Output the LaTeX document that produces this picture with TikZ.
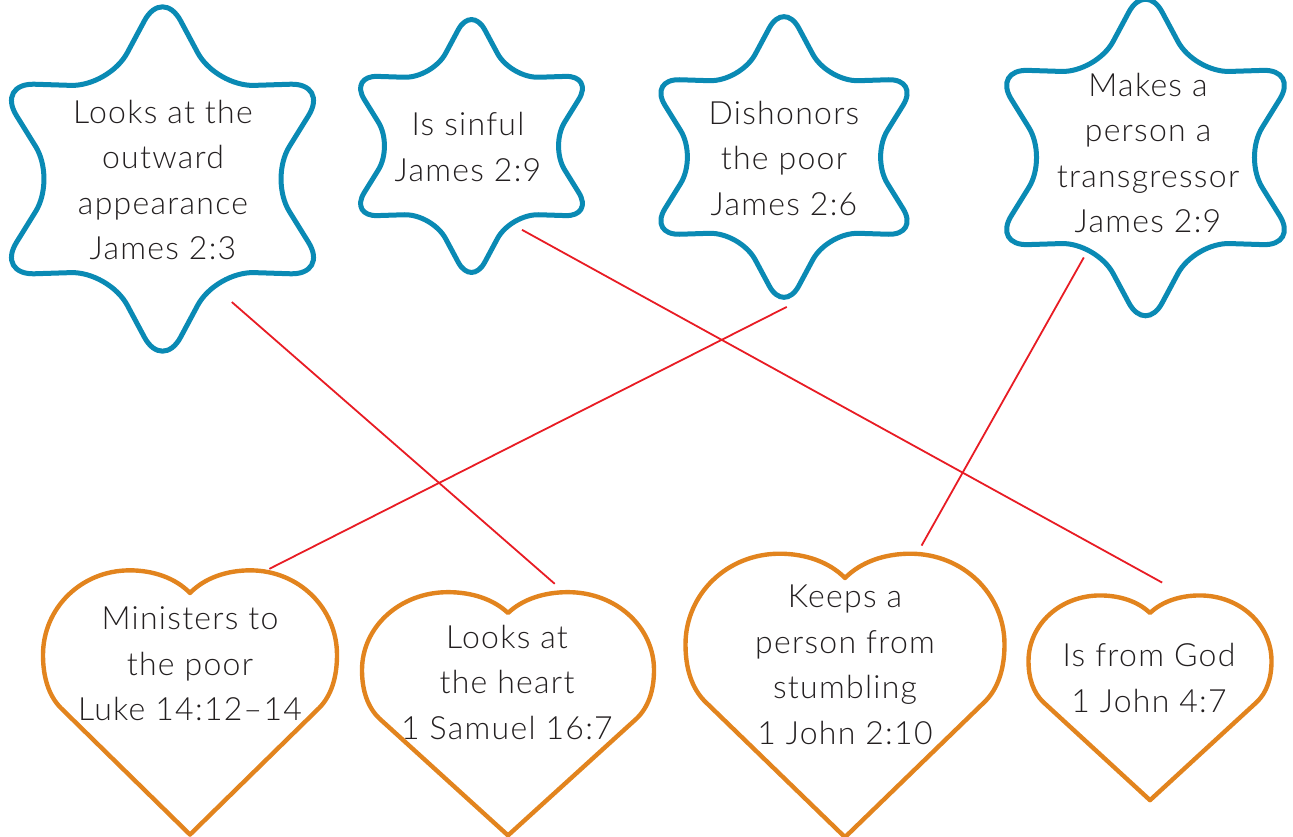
\documentclass[tikz,border=0pt]{standalone}
\usepackage{fontspec}
\setmainfont{Lato}[UprightFont=* Light, LetterSpace=4]
\usetikzlibrary{shapes.geometric}

\definecolor{starblue}{RGB}{10,138,180}
\definecolor{heartorange}{RGB}{226,132,30}
\definecolor{linkred}{RGB}{232,28,36}
\definecolor{textgray}{RGB}{35,31,32}

% unit heart, dip at the origin, y runs down
\newcommand{\heartpath}{(0,0) .. controls (0.1,-0.1) and (0.25,-0.15) .. (0.41,-0.15)
    .. controls (0.74,-0.15) and (1,0.1) .. (1,0.41)
    .. controls (1,0.56) and (0.96,0.68) .. (0.88,0.76)
    -- (0,1.6) -- (-0.88,0.76)
    .. controls (-0.96,0.68) and (-1,0.56) .. (-1,0.41)
    .. controls (-1,0.1) and (-0.74,-0.15) .. (-0.41,-0.15)
    .. controls (-0.25,-0.15) and (-0.1,-0.1) .. (0,0) -- cycle}

\begin{document}
\begin{tikzpicture}[x=1pt,y=-1pt,
        starbox/.style={star, star points=6, star point ratio=1.8, draw=starblue, line width=5pt, inner sep=0pt},
        heartline/.style={draw=heartorange, line width=4.4pt, line join=round},
        txt/.style={align=center, text=textgray, inner sep=0pt, font=\fontsize{32}{45.5}\selectfont},
        link/.style={draw=linkred, line width=1.8pt}]
        \useasboundingbox (0,0) rectangle (1293,837);

        % stars
        \node[starbox, minimum size=384pt, rounded corners=38.4pt] (appearance) at (162.5,179) {};
        \node[starbox, minimum size=282pt, rounded corners=28.2pt] (sinful) at (471.5,146) {};
        \node[starbox, minimum size=313pt, rounded corners=31.3pt] (dishonors) at (784,157) {};
        \node[starbox, minimum size=353pt, rounded corners=35.3pt] (transgressor) at (1145.5,157.5) {};

        \node[txt] (appearance-txt) at (163,180) {Looks at the\\outward\\appearance\\James 2:3};
        \node[txt] (sinful-txt) at (468,147) {Is sinful\\James 2:9};
        \node[txt] (dishonors-txt) at (784,158) {Dishonors\\the poor\\James 2:6};
        \node[txt] (transgressor-txt) at (1148,153) {Makes a\\person a\\transgressor\\James 2:9};

        % hearts
        \begin{scope}[shift={(190,593)}, xscale=147, yscale=151]
            \draw[heartline] \heartpath;
            \coordinate (ministers-pin) at (0.54,-0.16);
        \end{scope}
        \begin{scope}[shift={(508,613)}, xscale=146, yscale=139]
            \draw[heartline] \heartpath;
            \coordinate (heart-pin) at (0.32,-0.21);
        \end{scope}
        \begin{scope}[shift={(845,578)}, xscale=159.5, yscale=162]
            \draw[heartline] \heartpath;
            \coordinate (stumbling-pin) at (0.48,-0.2);
        \end{scope}
        \begin{scope}[shift={(1150,613)}, xscale=121.5, yscale=117]
            \draw[heartline] \heartpath;
            \coordinate (fromgod-pin) at (0.1,-0.26);
        \end{scope}

        \node[txt] (ministers) at (190,664) {Ministers to\\the poor\\Luke 14:12--14};
        \node[txt] (heart) at (507,682) {Looks at\\the heart\\1 Samuel 16:7};
        \node[txt] (stumbling) at (845,665) {Keeps a\\person from\\stumbling\\1 John 2:10};
        \node[txt] (fromgod) at (1149,678) {Is from God\\1 John 4:7};

        % links
        \draw[link, shorten <=26.7pt] (appearance.-65.4) -- (heart-pin);
        \draw[link, shorten <=15pt] (sinful.-64.7) -- (fromgod-pin);
        \draw[link, shorten <=5.6pt] (dishonors.-87.6) -- (ministers-pin);
        \draw[link, shorten <=14.2pt] (transgressor.-122.2) -- (stumbling-pin);
    \end{tikzpicture}
\end{document}
